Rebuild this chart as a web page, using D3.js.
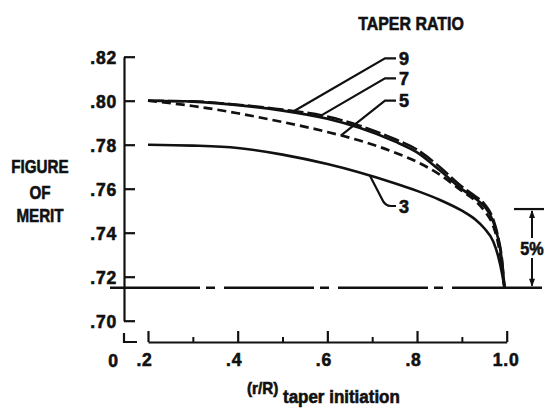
<!DOCTYPE html>
<html>
<head>
<meta charset="utf-8">
<script src="https://cdn.jsdelivr.net/npm/d3@7"></script>
<style>
  html, body { margin: 0; padding: 0; background: #fff; }
  svg { display: block; }
  text { font-family: "Liberation Sans", Arial, sans-serif; font-weight: bold; fill: #111; stroke: #111; stroke-width: 0.6px; }
</style>
</head>
<body>
<svg id="chart" width="544" height="408"></svg>
<script>
// r/R at which the blade taper begins
const rR = [0.2, 0.3, 0.4, 0.5, 0.6, 0.67, 0.75, 0.8, 0.85, 0.9, 0.93, 0.95, 0.97, 0.98, 0.99, 0.995];

// Figure of merit for each taper ratio
const fm3 = [0.780, 0.7796, 0.7785, 0.7755, 0.7712, 0.7675, 0.7625, 0.7590, 0.7550, 0.7500, 0.7460, 0.7420, 0.7360, 0.7300, 0.7210, 0.7150];
const fm5 = [0.800, 0.7976, 0.7943, 0.7903, 0.7858, 0.7820, 0.7765, 0.7722, 0.7665, 0.7590, 0.7545, 0.7500, 0.7430, 0.7360, 0.7240, 0.7150];
const fm7 = [0.800, 0.7996, 0.7980, 0.7955, 0.7918, 0.7878, 0.7815, 0.7765, 0.7685, 0.7598, 0.7555, 0.7520, 0.7450, 0.7380, 0.7260, 0.7150];
const fm9 = [0.800, 0.7997, 0.7982, 0.7960, 0.7928, 0.7888, 0.7826, 0.7778, 0.7700, 0.7610, 0.7566, 0.7532, 0.7462, 0.7390, 0.7270, 0.7150];

const taperRatios = ["3", "5", "7", "9"];
const seriesValues = [fm3, fm5, fm7, fm9];

// where each ratio's leader touches its curve
const leaderAt = [0.695, 0.63, 0.58, 0.525];

// untapered blade reference and the 5% band above it
const baseFM = 0.715;
const bandPct = 0.05;

const yTicks = [0.70, 0.72, 0.74, 0.76, 0.78, 0.80, 0.82];
const yTickLabels = [".70", ".72", ".74", ".76", ".78", ".80", ".82"];
const xMajor = [0.2, 0.4, 0.6, 0.8, 1.0];
const xMajorLabels = [".2", ".4", ".6", ".8", "1.0"];
const xMinor = [0.3, 0.5, 0.7, 0.9];

const svg = d3.select("#chart");
const ink = "#111";

const x = d3.scaleLinear().domain([0.2, 1.0]).range([148, 506.7]);
const y = d3.scaleLinear().domain([0.70, 0.82]).range([320.7, 56.7]);
const yAxisX = 124;
const xAxisY = 342;

// lettering helper: bold text, optionally squeezed horizontally
function letter(parent, px, py, str, size, anchor, sx) {
  return parent.append("text")
    .attr("transform", `translate(${px},${py}) scale(${sx || 1},1)`)
    .attr("text-anchor", anchor || "start")
    .attr("font-size", size)
    .text(str);
}

// ---- vertical axis: ticks point inward, labels on the left
const yAxis = d3.axisLeft(y)
  .tickValues(yTicks)
  .tickFormat((d, i) => yTickLabels[i])
  .tickSizeInner(-11).tickSizeOuter(0).tickPadding(7);
const gy = svg.append("g").attr("transform", `translate(${yAxisX},0)`).call(yAxis);
gy.attr("font-family", null).attr("font-size", null);
gy.select(".domain").attr("stroke", ink).attr("stroke-width", 2.2);
gy.selectAll(".tick line").attr("stroke", ink).attr("stroke-width", 2.2);
gy.selectAll(".tick text").attr("font-size", 17.5).attr("letter-spacing", 0.8)
  .attr("fill", ink).attr("dy", "0.36em");

// ---- horizontal axis (broken between 0 and .2)
const xAxis = d3.axisBottom(x)
  .tickValues(xMajor)
  .tickFormat((d, i) => xMajorLabels[i])
  .tickSizeInner(-11).tickSizeOuter(0).tickPadding(12);
const gx = svg.append("g").attr("transform", `translate(0,${xAxisY})`).call(xAxis);
gx.attr("font-family", null).attr("font-size", null);
gx.select(".domain").attr("stroke", ink).attr("stroke-width", 2.2);
gx.selectAll(".tick line").attr("stroke", ink).attr("stroke-width", 2.2);
gx.selectAll(".tick text").attr("font-size", 17.5).attr("letter-spacing", 0.8)
  .attr("dx", (d, i) => i === xMajor.length - 1 ? -1 : -4).attr("fill", ink);

const gxm = svg.append("g").attr("transform", `translate(0,${xAxisY})`)
  .call(d3.axisBottom(x).tickValues(xMinor).tickFormat("").tickSizeInner(-5).tickSizeOuter(0));
gxm.select(".domain").remove();
gxm.selectAll(".tick line").attr("stroke", ink).attr("stroke-width", 2);

// stub of the axis at the origin
svg.append("path")
  .attr("d", `M${yAxisX},${xAxisY - 9}V${xAxisY}H${yAxisX + 13}`)
  .attr("fill", "none").attr("stroke", ink).attr("stroke-width", 2.2);
letter(svg, yAxisX - 11, 367, "0", 17.5, "middle");

// ---- reference level (untapered blade)
svg.append("line")
  .attr("x1", 110).attr("x2", 544)
  .attr("y1", y(baseFM)).attr("y2", y(baseFM))
  .attr("stroke", ink).attr("stroke-width", 2.6)
  .attr("stroke-dasharray", "90,6,9,9");

// ---- curves
const line = d3.line().x((d, i) => x(rR[i])).y(d => y(d)).curve(d3.curveMonotoneX);
const styles = [
  { dash: null, w: 2.6 },
  { dash: "9,5", w: 2.7 },
  { dash: null, w: 2.6 },
  { dash: "16,4", w: 2.5 }
];
seriesValues.forEach((vals, k) => {
  svg.append("path")
    .attr("d", line(vals))
    .attr("fill", "none")
    .attr("stroke", ink)
    .attr("stroke-width", styles[k].w)
    .attr("stroke-dasharray", styles[k].dash)
    .attr("stroke-linecap", "butt");
});

// ---- leaders and taper-ratio labels
const valueAt = (vals, r) => {
  const i = d3.bisectRight(rR, r) - 1;
  const t = (r - rR[i]) / (rR[i + 1] - rR[i]);
  return vals[i] + t * (vals[i + 1] - vals[i]);
};
const labelX = 399;
const upperLabelY = { "9": 58.3, "7": 78.3, "5": 100.7 };
taperRatios.forEach((name, k) => {
  const px = x(leaderAt[k]), py = y(valueAt(seriesValues[k], leaderAt[k]));
  let d, ly;
  if (name === "3") {
    ly = 206;
    d = `M${px},${py}L${px + 12},${ly - 7}Q${px + 15},${ly} ${px + 21},${ly}H${labelX - 3}`;
  } else {
    ly = upperLabelY[name];
    d = `M${px},${py}L${labelX - 14},${ly}H${labelX - 3}`;
  }
  svg.append("path").attr("d", d).attr("fill", "none")
    .attr("stroke", ink).attr("stroke-width", 2.2);
  letter(svg, labelX, ly + 6.5, name, 18, "start");
});

letter(svg, 411, 30, "TAPER RATIO", 19, "middle", 0.84);

// ---- axis titles
[["FIGURE", 173], ["OF", 199], ["MERIT", 222]].forEach(([t, yy]) =>
  letter(svg, 40, yy, t, 19, "middle", 0.8));

letter(svg, 247, 394, "(r/R)", 16, "start", 0.95);
letter(svg, 283, 403, "taper initiation", 17.5, "start", 0.97);

// ---- 5% band marker
const yTop = y(baseFM * (1 + bandPct));
const yBase = y(baseFM);
const ax = 532;
svg.append("line").attr("x1", 514).attr("x2", 544).attr("y1", yTop).attr("y2", yTop)
  .attr("stroke", ink).attr("stroke-width", 2.2);
svg.append("line").attr("x1", ax).attr("x2", ax).attr("y1", yTop + 2).attr("y2", 238)
  .attr("stroke", ink).attr("stroke-width", 2);
svg.append("line").attr("x1", ax).attr("x2", ax).attr("y1", 258).attr("y2", yBase - 2)
  .attr("stroke", ink).attr("stroke-width", 2);
svg.append("path").attr("d", `M${ax},${yTop + 1}l-3,8h6z`).attr("fill", ink);
svg.append("path").attr("d", `M${ax},${yBase - 1}l-3,-8h6z`).attr("fill", ink);
letter(svg, ax, 255, "5%", 18, "middle", 0.9);
</script>
</body>
</html>
